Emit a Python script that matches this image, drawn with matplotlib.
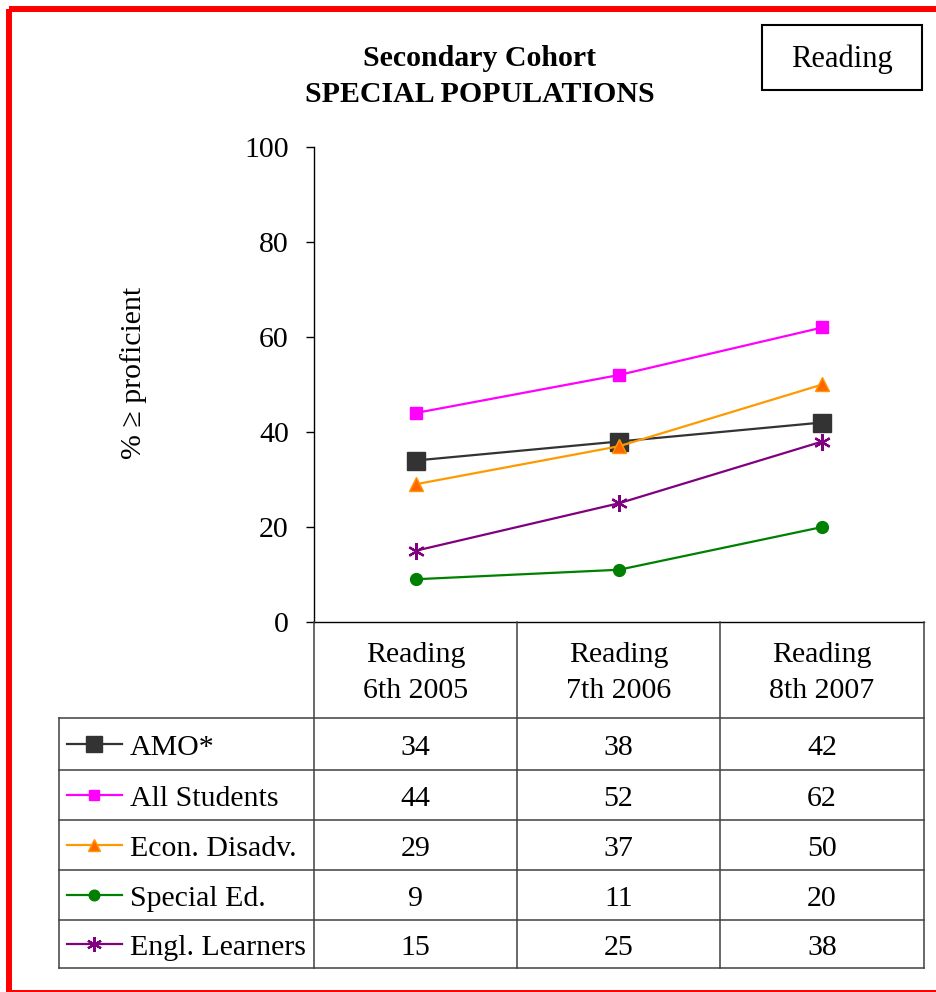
import matplotlib
matplotlib.use("Agg")
import matplotlib.pyplot as plt
from matplotlib.patches import Rectangle

plt.rcParams['font.family'] = ['Liberation Serif', 'DejaVu Serif']

categories = ['Reading\n6th 2005', 'Reading\n7th 2006', 'Reading\n8th 2007']
series_names = ['AMO*', 'All Students', 'Econ. Disadv.', 'Special Ed.', 'Engl. Learners']
amo = [34, 38, 42]
all_students = [44, 52, 62]
econ_disadv = [29, 37, 50]
special_ed = [9, 11, 20]
engl_learners = [15, 25, 38]
series_values = [amo, all_students, econ_disadv, special_ed, engl_learners]

styles = [
    dict(color='#333333', marker='s', markersize=13, mfc='#333333', mec='#333333'),
    dict(color='#FF00FF', marker='s', markersize=8.5, mfc='#FF00FF', mec='#FF00FF'),
    dict(color='#FF9900', marker='^', markersize=10, mfc='#FF6600', mec='#FF9900'),
    dict(color='#008000', marker='o', markersize=8.5, mfc='#008000', mec='#008000'),
    dict(color='#800080', marker=(6, 2, 0), markersize=12, mfc='#800080', mec='#800080', mew=1.6),
]

FS = 21.5

W, H = 937, 992
fig = plt.figure(figsize=(W / 100, H / 100), dpi=100)


def fx(px):
    return px / W


def fy(py):
    return 1 - py / H


# main line chart
ax = fig.add_axes([fx(314), fy(622), fx(924) - fx(314), fy(147) - fy(622)])
xs = [i + 0.5 for i in range(len(categories))]
for vals, st in zip(series_values, styles):
    ax.plot(xs, vals, lw=1.6, clip_on=False, **st)
ax.set_xlim(0, len(categories))
ax.set_ylim(0, 100)
ax.set_yticks(range(0, 101, 20))
ax.tick_params(axis='y', labelsize=FS, length=6, width=1, pad=12, direction='out')
ax.set_xticks([])
for s in ['top', 'right']:
    ax.spines[s].set_visible(False)
ax.spines['left'].set_linewidth(1)
ax.spines['bottom'].set_linewidth(1)
ax.patch.set_alpha(0)

# overlay in pixel coordinates for title, box, table and border
ov = fig.add_axes([0, 0, 1, 1])
ov.set_xlim(0, W)
ov.set_ylim(H, 0)
ov.axis('off')
ov.patch.set_alpha(0)

ov.text(480, 58, 'Secondary Cohort', ha='center', va='center', fontsize=FS, fontweight='bold')
ov.text(480, 95, 'SPECIAL POPULATIONS', ha='center', va='center', fontsize=FS, fontweight='bold')
ov.add_patch(Rectangle((762, 25), 160, 65, fill=False, ec='black', lw=1.5))
ov.text(842, 59, 'Reading', ha='center', va='center', fontsize=FS + 0.5)
ov.text(134, 373, '% \u2265 proficient', ha='center', va='center', rotation=90, fontsize=FS)

# data table under the chart
line_c = '#404040'
col_edges = [314, 517, 720, 924]
row_edges = [718, 770, 820, 870, 920, 968]
for x in col_edges:
    ov.plot([x, x], [622, 968], color=line_c, lw=1.1)
ov.plot([59, 59], [718, 968], color=line_c, lw=1.1)
for y in row_edges:
    ov.plot([59, 924], [y, y], color=line_c, lw=1.1)

col_centers = [(col_edges[i] + col_edges[i + 1]) / 2 for i in range(len(categories))]
for cx, cat in zip(col_centers, categories):
    ov.text(cx, 673, cat, ha='center', va='center', fontsize=FS, linespacing=1.55)

for r, (name, vals, st) in enumerate(zip(series_names, series_values, styles)):
    cy = (row_edges[r] + row_edges[r + 1]) / 2
    glyph = {k: v for k, v in st.items() if k != 'color'}
    glyph['markersize'] = st['markersize'] * (0.85 if r == 0 else 0.9)
    ov.plot([67, 122], [cy, cy], color=st['color'], lw=1.6)
    ov.plot([94.5], [cy], linestyle='none', **glyph)
    ov.text(130, cy + 4, name, ha='left', va='center', fontsize=FS)
    for cx, v in zip(col_centers, vals):
        ov.text(cx, cy + 4, str(v), ha='center', va='center', fontsize=FS)

# red frame around the page
ov.add_patch(Rectangle((9.5, 8.5), 1000, 984, fill=False, ec='#FF0000', lw=4.3,
                       joinstyle='round', clip_on=False))

fig.savefig('out.png', dpi=100)
